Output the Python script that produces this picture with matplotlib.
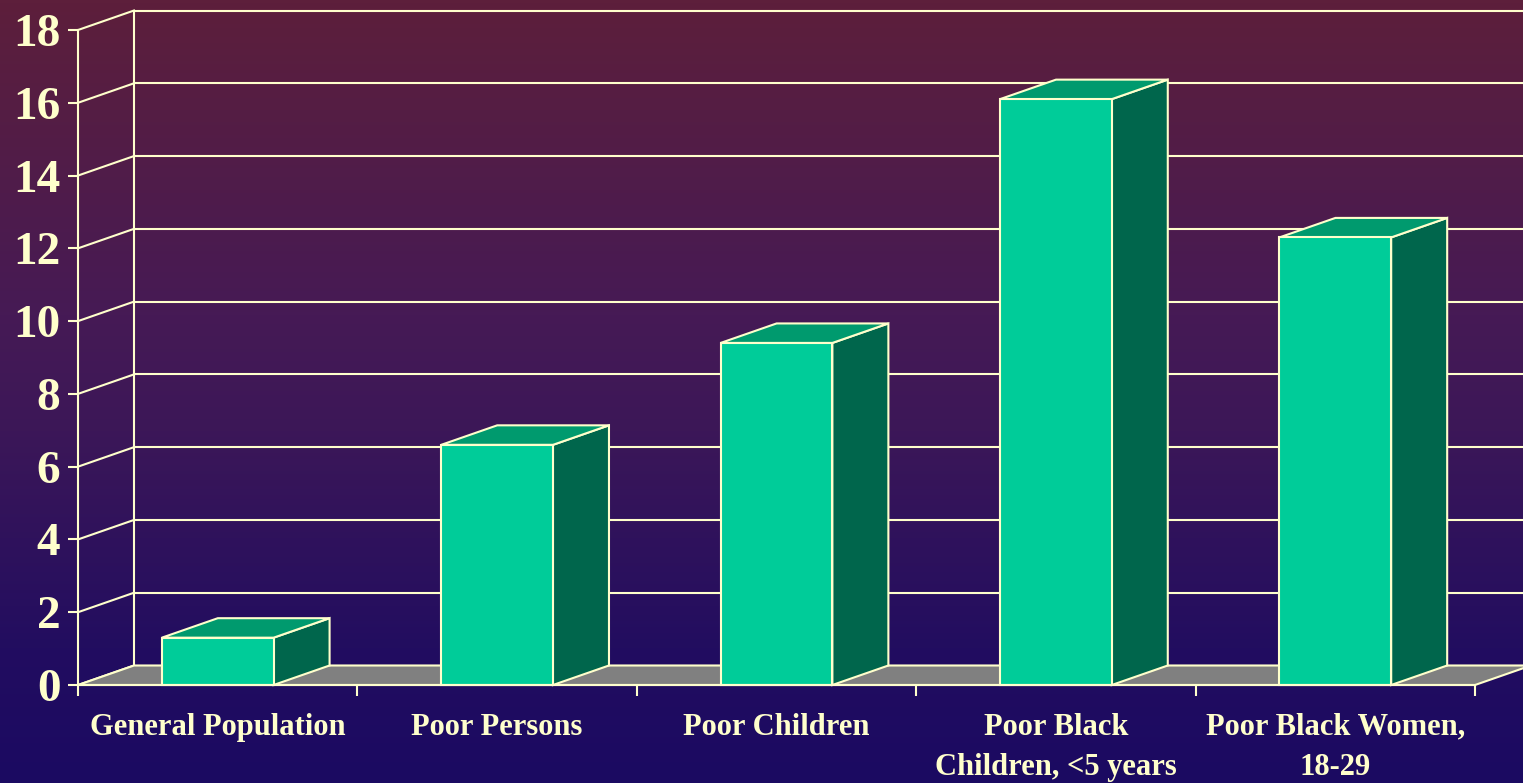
import numpy as np
import matplotlib
matplotlib.use("Agg")
import matplotlib.pyplot as plt
from matplotlib.patches import Polygon
from matplotlib.colors import LinearSegmentedColormap

categories = ["General Population", "Poor Persons", "Poor Children",
              "Poor Black\nChildren, <5 years", "Poor Black Women,\n18-29"]
values = [1.3, 6.6, 9.4, 16.1, 12.3]
yticks = list(range(0, 19, 2))

W, H = 1523, 783
fig = plt.figure(figsize=(W / 100, H / 100), dpi=100)

# gradient background
bg = fig.add_axes([0, 0, 1, 1], zorder=0)
cmap = LinearSegmentedColormap.from_list(
    "bg", [(0.0, "#5D1F3B"), (0.40, "#461A55"), (0.55, "#3C1758"),
           (0.83, "#220D60"), (1.0, "#1B0A62")])
grad = np.linspace(0, 1, 256).reshape(-1, 1)
bg.imshow(grad, aspect="auto", cmap=cmap, extent=[0, 1, 1, 0])
bg.set_axis_off()

cream = "#FFFFCC"
front_c, top_c, side_c = "#00CC99", "#009A6E", "#00664C"
floor_c = "#808080"

left_px, right_px, y0_px, ytop_px = 78, 1475, 685, 30
ax = fig.add_axes([left_px / W, (H - y0_px) / H, (right_px - left_px) / W,
                   (y0_px - ytop_px) / H], zorder=1)
ax.patch.set_alpha(0)
n = len(categories)
ax.set_xlim(0, n)
ax.set_ylim(0, 18)

# depth offset in data units
px_x = (right_px - left_px) / n
px_y = (y0_px - ytop_px) / 18
ddx = 56 / px_x
ddy = 19.5 / px_y
lw = 1.5

# back wall gridlines and left wall diagonals
for v in yticks:
    ax.plot([ddx, n + 2 * ddx], [v + ddy, v + ddy], color=cream, lw=lw,
            clip_on=False, zorder=1, solid_capstyle="butt")
    ax.plot([0, ddx], [v, v + ddy], color=cream, lw=lw, clip_on=False, zorder=1)
ax.plot([ddx, ddx], [ddy, 18 + ddy], color=cream, lw=lw, clip_on=False, zorder=1)

# floor
floor = Polygon([(0, 0), (n, 0), (n + ddx, ddy), (ddx, ddy)], closed=True,
                facecolor=floor_c, edgecolor=cream, lw=lw, clip_on=False, zorder=2)
ax.add_patch(floor)

# bars
bw = 0.4
for i, v in enumerate(values):
    c = i + 0.5
    x0, x1 = c - bw / 2, c + bw / 2
    front = Polygon([(x0, 0), (x1, 0), (x1, v), (x0, v)], closed=True,
                    facecolor=front_c, edgecolor=cream, lw=lw, clip_on=False,
                    zorder=3, joinstyle="miter")
    top = Polygon([(x0, v), (x1, v), (x1 + ddx, v + ddy), (x0 + ddx, v + ddy)],
                  closed=True, facecolor=top_c, edgecolor=cream, lw=lw,
                  clip_on=False, zorder=3, joinstyle="miter")
    side = Polygon([(x1, 0), (x1 + ddx, ddy), (x1 + ddx, v + ddy), (x1, v)],
                   closed=True, facecolor=side_c, edgecolor=cream, lw=lw,
                   clip_on=False, zorder=3, joinstyle="miter")
    for p in (side, top, front):
        ax.add_patch(p)

# axes lines
ax.plot([0, 0], [0, 18], color=cream, lw=lw, clip_on=False, zorder=4)
ax.plot([0, n], [0, 0], color=cream, lw=lw, clip_on=False, zorder=4)
for s in ax.spines.values():
    s.set_visible(False)

# y ticks
ax.set_yticks(yticks)
ax.set_yticklabels([str(t) for t in yticks])
ax.tick_params(axis="y", length=7.2, width=lw, color=cream, pad=5.5,
               labelcolor=cream, labelsize=34)
for lab in ax.get_yticklabels():
    lab.set_fontfamily("Liberation Serif")
    lab.set_fontweight("bold")

# x ticks at boundaries, labels at centers
ax.set_xticks(range(n + 1))
ax.set_xticklabels([""] * (n + 1))
ax.tick_params(axis="x", which="major", length=8, width=lw, color=cream)
ax.set_xticks([i + 0.5 for i in range(n)], minor=True)
ax.set_xticklabels(categories, minor=True, fontfamily="Liberation Serif",
                   fontweight="bold", fontsize=22, color=cream, linespacing=1.5)
ax.tick_params(axis="x", which="minor", length=0, pad=20)

fig.savefig("out.png", dpi=100)
